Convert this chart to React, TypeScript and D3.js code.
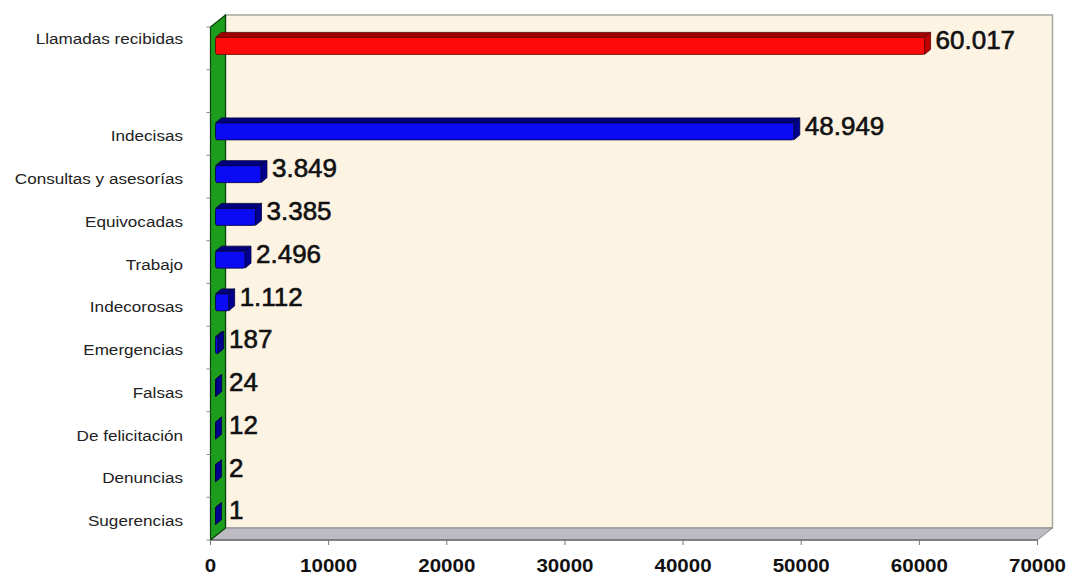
import React from "react";
import * as d3 from "d3";

const categories = [
  "Llamadas recibidas",
  "",
  "Indecisas",
  "Consultas y asesorías",
  "Equivocadas",
  "Trabajo",
  "Indecorosas",
  "Emergencias",
  "Falsas",
  "De felicitación",
  "Denuncias",
  "Sugerencias",
];
const values: (number | null)[] = [60017, null, 48949, 3849, 3385, 2496, 1112, 187, 24, 12, 2, 1];
const valueLabels = ["60.017", "", "48.949", "3.849", "3.385", "2.496", "1.112", "187", "24", "12", "2", "1"];
const highlight = [true, false, false, false, false, false, false, false, false, false, false, false];
const xTicks = [0, 10000, 20000, 30000, 40000, 50000, 60000, 70000];

const W = 1069;
const H = 575;
const DX = 15; // wall depth
const DY = -12;
const BDX = 6; // bar depth
const BDY = -5;
const BAR_H = 17;
const FONT = "Arial, 'Liberation Sans', Helvetica, sans-serif";

export default function App() {
  const x = d3.scaleLinear().domain([0, 70000]).range([210.5, 1037.5]);
  const y = d3
    .scaleBand<number>()
    .domain(categories.map((_, i) => i))
    .range([27, 540])
    .paddingInner(0)
    .paddingOuter(0);
  const x0 = x(0);
  const yTop = y.range()[0];
  const yBot = y.range()[1];
  const xEnd = x(70000);
  const bw = y.bandwidth();

  const boundaries = d3.range(categories.length + 1).map((i) => yTop + i * bw);

  return (
    <svg
      width={W}
      height={H}
      style={{ position: "absolute", left: 0, top: 0, background: "#fff" }}
    >
      {/* back wall */}
      <rect
        x={x0 + DX}
        y={yTop + DY}
        width={xEnd - x0}
        height={yBot - yTop}
        fill="#fdf3e3"
        stroke="#a3aa9e"
        strokeWidth={1.5}
      />
      {/* floor */}
      <path
        d={`M${x0},${yBot} L${x0 + DX},${yBot + DY} L${xEnd + DX},${yBot + DY} L${xEnd},${yBot} Z`}
        fill="#bdbbc2"
        stroke="#8a8890"
        strokeWidth={1}
      />
      <line x1={x0} x2={xEnd} y1={yBot} y2={yBot} stroke="#6e6c72" strokeWidth={1.5} />
      {/* left wall */}
      <path
        d={`M${x0},${yTop} L${x0 + DX},${yTop + DY} L${x0 + DX},${yBot + DY} L${x0},${yBot} Z`}
        fill="#1c9e1c"
        stroke="#0b3d0b"
        strokeWidth={1.2}
      />
      {/* y ticks */}
      {boundaries.map((b, i) => (
        <line key={"yt" + i} x1={x0 - 4} x2={x0} y1={b} y2={b} stroke="#888" strokeWidth={1} />
      ))}
      {/* x ticks */}
      {xTicks.map((t) => (
        <g key={"xt" + t}>
          <line x1={x(t)} x2={x(t)} y1={yBot} y2={yBot + 5} stroke="#777" strokeWidth={1} />
          <g transform={`translate(${x(t)},${572}) scale(1.14,1)`}>
            <text
              textAnchor="middle"
              fontFamily={FONT}
              fontWeight="bold"
              fontSize={18}
              fill="#111"
            >
              {t}
            </text>
          </g>
        </g>
      ))}
      {/* bars */}
      {values.map((v, i) => {
        if (v === null) return null;
        const c = (y(i) as number) + bw / 2 - 2.5;
        const left = x0 + 5;
        const right = x(v) + 5;
        const top = c - BAR_H / 2;
        const bot = c + BAR_H / 2;
        const red = highlight[i];
        const front = red ? "#ff0a0a" : "#0a0af5";
        const topC = red ? "#a00000" : "#00007e";
        const sideC = red ? "#c00000" : "#000090";
        const edge = red ? "#5a0000" : "#00003a";
        return (
          <g key={"bar" + i}>
            <path
              d={`M${left},${top} L${left + BDX},${top + BDY} L${right + BDX},${top + BDY} L${right},${top} Z`}
              fill={topC}
              stroke={edge}
              strokeWidth={0.8}
            />
            <path
              d={`M${right},${top} L${right + BDX},${top + BDY} L${right + BDX},${bot + BDY} L${right},${bot} Z`}
              fill={sideC}
              stroke={edge}
              strokeWidth={0.8}
            />
            <rect
              x={left}
              y={top}
              width={Math.max(0, right - left)}
              height={BAR_H}
              rx={2}
              fill={front}
              stroke={edge}
              strokeWidth={0.8}
            />
          </g>
        );
      })}
      {/* value labels */}
      {values.map((v, i) => {
        if (v === null) return null;
        const c = (y(i) as number) + bw / 2 - 8;
        const lx = Math.max(x(v) + 5 + BDX + 5, 229);
        return (
          <g key={"vl" + i} transform={`translate(${lx},${c}) scale(1.04,1)`}>
            <text
              dominantBaseline="central"
              fontFamily={FONT}
              fontSize={25}
              fill="#111"
              stroke="#111"
              strokeWidth={0.6}
            >
              {valueLabels[i]}
            </text>
          </g>
        );
      })}
      {/* category labels */}
      {categories.map((cat, i) => {
        if (!cat) return null;
        const nudge = i === 0 ? -10 : 2;
        const c = (y(i) as number) + bw / 2 + nudge;
        return (
          <g key={"cl" + i} transform={`translate(183,${c}) scale(1.14,1)`}>
            <text
              textAnchor="end"
              dominantBaseline="central"
              fontFamily={FONT}
              fontSize={15}
              fill="#222"
            >
              {cat}
            </text>
          </g>
        );
      })}
    </svg>
  );
}
